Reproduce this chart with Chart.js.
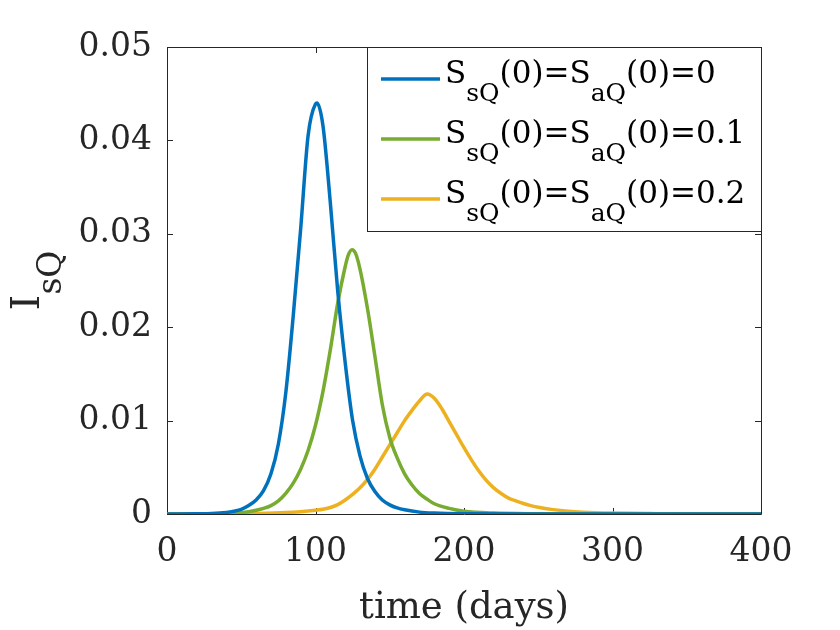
<!DOCTYPE html>
<html>
<head>
<meta charset="utf-8">
<script src="https://cdn.jsdelivr.net/npm/chart.js@4/dist/chart.umd.min.js"></script>
<style>
  body { margin: 0; background: #fff; }
  canvas { display: block; }
</style>
</head>
<body>
<canvas id="myChart" width="840" height="630"></canvas>
<script>
// values (days, I_sQ)
var blueDays = [0, 20, 30, 40, 45, 50, 55, 60, 65, 70, 75, 80, 85, 90, 95, 100, 101, 105, 110, 115, 120, 125, 130, 135, 140, 145, 150, 155, 160, 170, 180, 200, 250, 400];
var blueVals = [0, 0.00002, 0.00005, 0.00017, 0.0003, 0.0005, 0.0009, 0.0015, 0.0025, 0.0043, 0.0075, 0.0130, 0.0212, 0.0305, 0.0405, 0.0439, 0.0440, 0.0416, 0.0333, 0.0238, 0.0162, 0.0100, 0.0062, 0.0038, 0.0024, 0.0015, 0.00098, 0.00065, 0.00045, 0.0002, 0.0001, 0.00003, 0, 0];

var greenDays = [0, 30, 40, 50, 55, 60, 65, 70, 75, 80, 85, 90, 95, 100, 105, 110, 115, 120, 122, 124.6, 127, 130, 135, 140, 145, 150, 155, 160, 165, 170, 175, 180, 190, 200, 220, 250, 300, 400];
var greenVals = [0, 0.00002, 0.00006, 0.00015, 0.00025, 0.0004, 0.0006, 0.0009, 0.0014, 0.0022, 0.0033, 0.0048, 0.0068, 0.0095, 0.0131, 0.0176, 0.0226, 0.0265, 0.0277, 0.0283, 0.0279, 0.0262, 0.0220, 0.0169, 0.0117, 0.0082, 0.0060, 0.0043, 0.0031, 0.0022, 0.0016, 0.0011, 0.0006, 0.0003, 0.0001, 0.00003, 0, 0];

var orangeDays = [0, 40, 60, 80, 90, 100, 105, 110, 115, 120, 125, 130, 135, 140, 145, 150, 155, 160, 165, 170, 175.2, 180, 185, 190, 195, 200, 205, 210, 215, 220, 225, 230, 235, 240, 245, 250, 260, 270, 280, 300, 330, 360, 400];
var orangeVals = [0, 0.00002, 0.00006, 0.00015, 0.00025, 0.0004, 0.0005, 0.0007, 0.0010, 0.0015, 0.0021, 0.0028, 0.0037, 0.0048, 0.0061, 0.0074, 0.0087, 0.0100, 0.0111, 0.0121, 0.01285, 0.0124, 0.0113, 0.0099, 0.0085, 0.0071, 0.0058, 0.0046, 0.0036, 0.0028, 0.0022, 0.0017, 0.0014, 0.00112, 0.0009, 0.00072, 0.00047, 0.0003, 0.0002, 0.0001, 0.00004, 0.00001, 0];

var seriesLabels = ['S_{sQ}(0)=S_{aQ}(0)=0', 'S_{sQ}(0)=S_{aQ}(0)=0.1', 'S_{sQ}(0)=S_{aQ}(0)=0.2'];
var seriesColors = ['#0072BD', '#77AC30', '#EDB120'];

var xTicks = [0, 100, 200, 300, 400];
var xTickLabels = ['0', '100', '200', '300', '400'];
var yTicks = [0, 0.01, 0.02, 0.03, 0.04, 0.05];
var yTickLabels = ['0', '0.01', '0.02', '0.03', '0.04', '0.05'];

var xTitle = 'time (days)';
var yTitle = 'I_{sQ}';

var FONT = '"DejaVu Serif", "Liberation Serif", serif';
var AXCOL = '#262626';

function toPoints(days, vals) {
    var pts = [];
    for (var i = 0; i < days.length; i++) {
        pts.push({x: days[i], y: vals[i]});
    }
    return pts;
}

// split "S_{sQ}(0)" into normal / subscript pieces
function parseSub(str) {
    var parts = [];
    var re = /_\{([^}]*)\}/g;
    var last = 0, m;
    while ((m = re.exec(str)) !== null) {
        if (m.index > last) parts.push({t: str.slice(last, m.index), sub: false});
        parts.push({t: m[1], sub: true});
        last = re.lastIndex;
    }
    if (last < str.length) parts.push({t: str.slice(last), sub: false});
    return parts;
}

function richWidth(ctx, parts, size, subSize) {
    var w = 0;
    for (var i = 0; i < parts.length; i++) {
        ctx.font = (parts[i].sub ? subSize : size) + 'px ' + FONT;
        w += ctx.measureText(parts[i].t).width;
    }
    return w;
}

function drawRich(ctx, parts, x, y, size, subSize, subDrop) {
    ctx.textBaseline = 'alphabetic';
    ctx.textAlign = 'left';
    for (var i = 0; i < parts.length; i++) {
        var p = parts[i];
        ctx.font = (p.sub ? subSize : size) + 'px ' + FONT;
        ctx.fillText(p.t, x, p.sub ? y + subDrop : y);
        x += ctx.measureText(p.t).width;
    }
}

var matlabAxes = {
    id: 'matlabAxes',
    beforeDatasetsDraw: function (chart) {
        var ctx = chart.ctx, a = chart.chartArea;
        var xs = chart.scales.x, ys = chart.scales.y;
        var tl = 6;
        ctx.save();
        ctx.strokeStyle = AXCOL;
        ctx.lineWidth = 1;
        ctx.beginPath();
        ctx.rect(Math.round(a.left) + 0.5, Math.round(a.top) + 0.5, Math.round(a.right - a.left), Math.round(a.bottom - a.top));
        for (var i = 0; i < xTicks.length; i++) {
            var px = Math.round(xs.getPixelForValue(xTicks[i])) + 0.5;
            ctx.moveTo(px, a.bottom); ctx.lineTo(px, a.bottom - tl);
            ctx.moveTo(px, a.top); ctx.lineTo(px, a.top + tl);
        }
        for (var j = 0; j < yTicks.length; j++) {
            var py = Math.round(ys.getPixelForValue(yTicks[j])) + 0.5;
            ctx.moveTo(a.left, py); ctx.lineTo(a.left + tl, py);
            ctx.moveTo(a.right, py); ctx.lineTo(a.right - tl, py);
        }
        ctx.stroke();
        ctx.restore();
    },
    afterDraw: function (chart) {
        var ctx = chart.ctx, a = chart.chartArea;
        ctx.save();
        // y axis title with subscript, rotated
        var yParts = parseSub(yTitle);
        var w = richWidth(ctx, yParts, 40, 33);
        ctx.translate(39, (a.top + a.bottom) / 2 + w / 2);
        ctx.rotate(-Math.PI / 2);
        ctx.fillStyle = AXCOL;
        drawRich(ctx, yParts, 0, 0, 40, 33, 22);
        ctx.restore();

        // legend box, top right inside the axes
        ctx.save();
        var bx = 367, by = Math.round(a.top) + 0.5, bw = Math.round(a.right) - bx, bh = 184;
        ctx.fillStyle = '#ffffff';
        ctx.fillRect(bx + 0.5, by, bw, bh);
        ctx.strokeStyle = AXCOL;
        ctx.lineWidth = 1;
        ctx.strokeRect(bx + 0.5, by, bw, bh);
        for (var i = 0; i < seriesLabels.length; i++) {
            var ly = 79 + i * 60;
            ctx.strokeStyle = seriesColors[i];
            ctx.lineWidth = 3.5;
            ctx.beginPath();
            ctx.moveTo(381, ly); ctx.lineTo(440, ly);
            ctx.stroke();
            ctx.fillStyle = '#000000';
            drawRich(ctx, parseSub(seriesLabels[i]), 445, ly + 4, 31, 25, 18);
        }
        ctx.restore();
    }
};

var datas = [
    toPoints(blueDays, blueVals),
    toPoints(greenDays, greenVals),
    toPoints(orangeDays, orangeVals)
];
var datasets = [];
for (var k = 0; k < datas.length; k++) {
    datasets.push({
        label: seriesLabels[k],
        data: datas[k],
        borderColor: seriesColors[k],
        backgroundColor: seriesColors[k],
        borderWidth: 3.5,
        pointRadius: 0,
        fill: false,
        cubicInterpolationMode: 'monotone'
    });
}

var ctx = document.getElementById('myChart');
var myLineChart = new Chart(ctx, {
    type: 'line',
    data: { datasets: datasets },
    options: {
        responsive: false,
        animation: false,
        devicePixelRatio: 1,
        layout: { padding: { top: 47, right: 79, left: 0, bottom: 0 } },
        plugins: {
            legend: { display: false },
            tooltip: { enabled: false }
        },
        scales: {
            x: {
                type: 'linear',
                min: 0,
                max: 400,
                afterBuildTicks: function (s) { s.ticks = xTicks.map(function (v) { return {value: v}; }); },
                afterFit: function (s) { s.height = 116; },
                grid: { display: false, drawTicks: false },
                border: { display: false },
                ticks: {
                    color: AXCOL,
                    font: { family: FONT, size: 33 },
                    padding: 19,
                    maxRotation: 0,
                    autoSkip: false,
                    callback: function (v) { return xTickLabels[xTicks.indexOf(v)]; }
                },
                title: {
                    display: true,
                    text: xTitle,
                    color: AXCOL,
                    font: { family: FONT, size: 37, lineHeight: 1 },
                    padding: { top: 0, bottom: 3 }
                }
            },
            y: {
                min: 0,
                max: 0.05,
                afterBuildTicks: function (s) { s.ticks = yTicks.map(function (v) { return {value: v}; }); },
                afterFit: function (s) { s.width = 167; },
                grid: { display: false, drawTicks: false },
                border: { display: false },
                ticks: {
                    color: AXCOL,
                    font: { family: FONT, size: 33 },
                    padding: 15,
                    autoSkip: false,
                    callback: function (v) { return yTickLabels[yTicks.indexOf(v)]; }
                }
            }
        }
    },
    plugins: [matlabAxes]
});
</script>
</body>
</html>
